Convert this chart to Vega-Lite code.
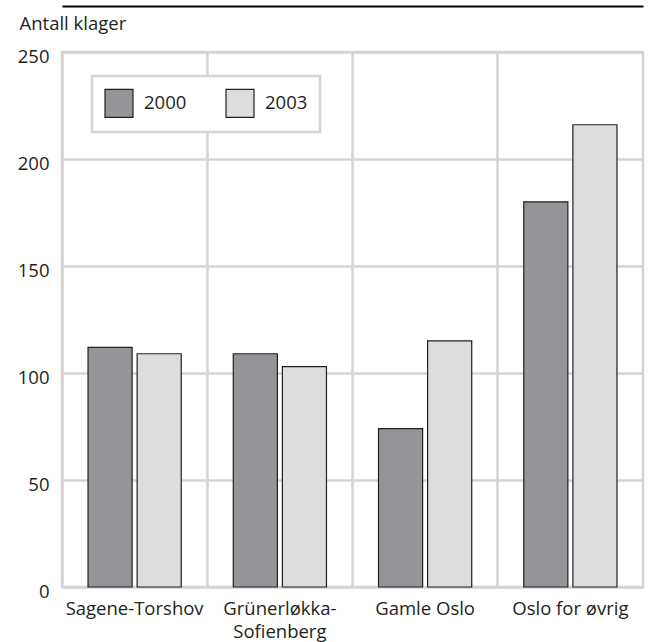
{
  "$schema": "https://vega.github.io/schema/vega-lite/v6.json",
  "autosize": {"type": "none"},
  "padding": {"left": 62, "top": 52, "right": 19, "bottom": 55},
  "width": 581,
  "height": 535,
  "config": {
    "font": "Open Sans",
    "view": {"stroke": "#d4d4d4", "strokeWidth": 2.5},
    "axis": {"labelFont": "Open Sans", "titleFont": "Open Sans", "labelColor": "#231f20", "titleColor": "#231f20"},
    "legend": {"padding": 12, "fillColor": "white", "strokeColor": "#d4d4d4", "strokeWidth": 2.5}
  },
  "data": {
    "values": [
      {"bydel": "Sagene-Torshov", "aar": "2000", "klager": 112},
      {"bydel": "Sagene-Torshov", "aar": "2003", "klager": 109},
      {"bydel": "Grünerløkka-Sofienberg", "aar": "2000", "klager": 109},
      {"bydel": "Grünerløkka-Sofienberg", "aar": "2003", "klager": 103},
      {"bydel": "Gamle Oslo", "aar": "2000", "klager": 74},
      {"bydel": "Gamle Oslo", "aar": "2003", "klager": 115},
      {"bydel": "Oslo for øvrig", "aar": "2000", "klager": 180},
      {"bydel": "Oslo for øvrig", "aar": "2003", "klager": 216}
    ]
  },
  "resolve": {"axis": {"x": "independent"}},
  "layer": [
    {
      "mark": {"type": "bar", "stroke": "#231f20", "strokeWidth": 1.2},
      "encoding": {
        "x": {
          "field": "bydel", "type": "nominal", "sort": null,
          "scale": {"paddingInner": 0, "paddingOuter": 0},
          "axis": {
            "orient": "bottom", "title": null, "labelAngle": 0, "labelFontSize": 18.5,
            "labelPadding": 12, "ticks": false, "domain": false,
            "grid": true, "gridColor": "#d4d4d4", "gridWidth": 2.5, "bandPosition": 0,
            "labelExpr": "datum.label == 'Grünerløkka-Sofienberg' ? ['Grünerløkka-', 'Sofienberg'] : datum.label",
            "labelLineHeight": 23
          }
        },
        "xOffset": {
          "field": "aar", "type": "nominal",
          "scale": {"paddingInner": 0.102, "paddingOuter": 0.53}
        },
        "y": {
          "field": "klager", "type": "quantitative",
          "scale": {"domain": [0, 250]},
          "axis": {
            "values": [0, 50, 100, 150, 200, 250],
            "title": "Antall klager", "titleAngle": 0, "titleAlign": "left",
            "titleBaseline": "alphabetic", "titleX": -43, "titleY": -23,
            "titleFontSize": 18.5, "titleFontWeight": "normal",
            "labelFontSize": 18.5, "labelPadding": 13, "labelOffset": 4,
            "ticks": false, "domain": false,
            "grid": true, "gridColor": "#d4d4d4", "gridWidth": 2.5
          }
        },
        "color": {
          "field": "aar", "type": "nominal",
          "scale": {"domain": ["2000", "2003"], "range": ["#939598", "#dcdddf"]},
          "legend": {
            "title": null, "orient": "none", "direction": "horizontal",
            "legendX": 30, "legendY": 24,
            "symbolType": "square", "symbolSize": 784,
            "symbolStrokeColor": "#231f20", "symbolStrokeWidth": 1.2,
            "symbolOpacity": 1,
            "labelFontSize": 18.5, "labelOffset": 10, "columnPadding": 36,
            "labelColor": "#231f20"
          }
        }
      }
    },
    {
      "mark": {"type": "rule", "opacity": 0},
      "encoding": {
        "x": {
          "field": "bydel", "type": "nominal", "sort": null,
          "axis": {"orient": "top", "title": null, "labels": false, "ticks": false,
                   "domainColor": "#000000", "domainWidth": 2, "offset": 46}
        }
      }
    }
  ]
}
